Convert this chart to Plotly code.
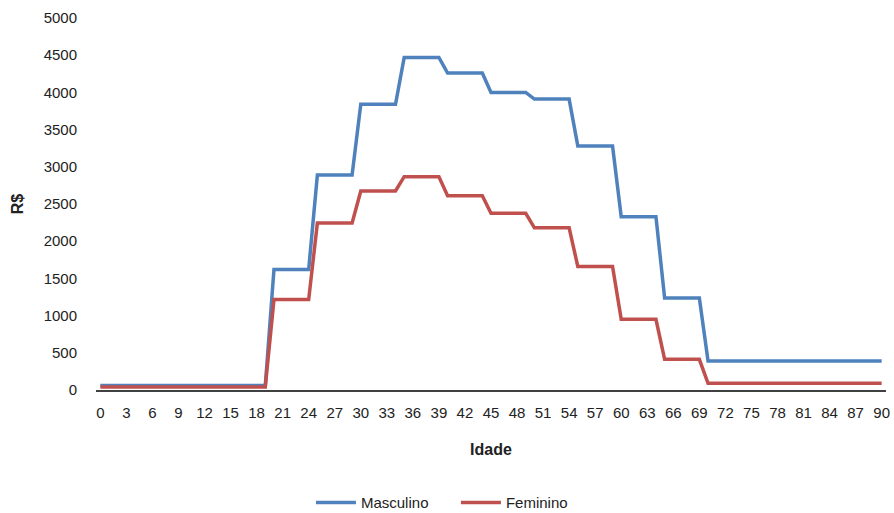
import plotly.graph_objects as go

ages = list(range(0, 91))
tick_vals = list(range(0, 91, 3))
y_ticks = list(range(0, 5001, 500))

# values per age (constant within age groups)
masculino = ([60] * 20 + [1620] * 5 + [2890] * 5 + [3840] * 5 + [4470] * 5 +
             [4260] * 5 + [4000] * 5 + [3910] * 5 + [3280] * 5 + [2330] * 5 +
             [1235] * 5 + [390] * 21)
feminino = ([40] * 20 + [1215] * 5 + [2245] * 5 + [2675] * 5 + [2867] * 5 +
            [2612] * 5 + [2375] * 5 + [2180] * 5 + [1660] * 5 + [950] * 5 +
            [412] * 5 + [90] * 21)

font = "Liberation Sans"

fig = go.Figure()
fig.add_trace(go.Scatter(x=ages, y=masculino, mode="lines", name="Masculino",
                         line=dict(color="#4F81BD", width=3.5)))
fig.add_trace(go.Scatter(x=ages, y=feminino, mode="lines", name="Feminino",
                         line=dict(color="#C0504D", width=3.5)))

fig.update_layout(
    width=894, height=513,
    margin=dict(l=96, r=8, t=18, b=123),
    paper_bgcolor="white", plot_bgcolor="white",
    font=dict(family=font, size=15, color="#222222"),
    showlegend=True,
    legend=dict(orientation="h", xref="container", x=0.51, xanchor="center",
                yref="container", y=0.02, yanchor="middle", font=dict(size=15),
                itemwidth=40, entrywidth=90, entrywidthmode="pixels"),
    xaxis=dict(range=[-0.5, 90.5], tickvals=tick_vals, ticktext=[str(v) for v in tick_vals],
               showgrid=False, zeroline=False, showline=True, linecolor="#404040",
               linewidth=1.5, ticks="", ticklabelstandoff=8, automargin=False,
               title=dict(text="<b>Idade</b>", standoff=24, font=dict(size=16))),
    yaxis=dict(range=[0, 5000], tickvals=y_ticks, showgrid=False, zeroline=False,
               showline=False, ticks="", ticklabelstandoff=18, automargin=False,
               title=dict(text="<b>R$</b>", standoff=16, font=dict(size=16))),
)

fig.write_html("out.html")
